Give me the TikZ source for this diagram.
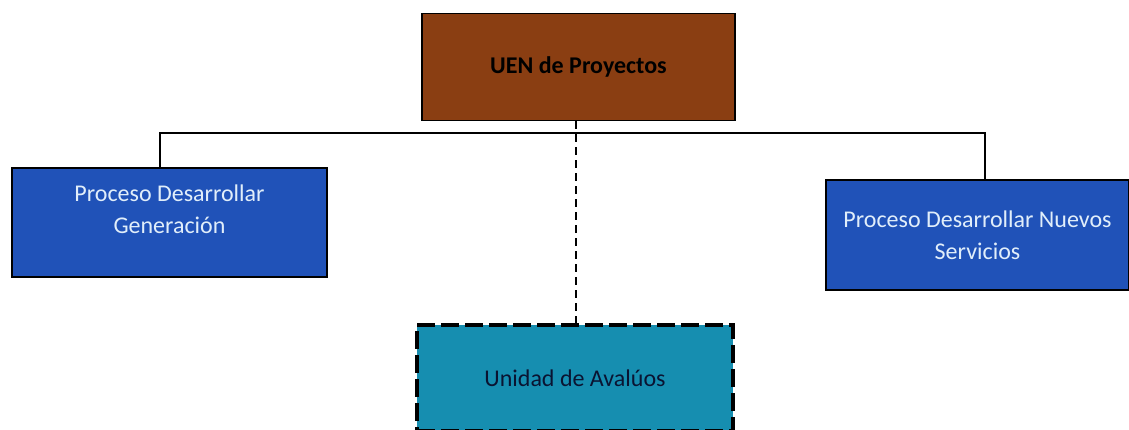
\documentclass[tikz,border=0pt]{standalone}
\usepackage{fontspec}
\setmainfont{Carlito}
\definecolor{brownfill}{RGB}{138,62,18}
\definecolor{bluefill}{RGB}{32,82,184}
\definecolor{tealfill}{RGB}{22,142,176}
\definecolor{lighttext}{RGB}{225,238,250}
\definecolor{darktext}{RGB}{10,20,50}
\tikzset{
  box/.style={draw=black, line width=1.8pt, inner sep=0pt, align=center,
    font=\fontsize{24}{32}\selectfont},
  bluebox/.style={box, fill=bluefill, text=lighttext},
  conn/.style={draw=black, line width=1.5pt},
}
\begin{document}
\begin{tikzpicture}[x=1pt,y=-1pt]
\useasboundingbox (0,0) rectangle (1129,429);
\node[box, fill=brownfill, text=black, minimum width=313pt, minimum height=107pt,
  font=\fontsize{24}{28}\selectfont\bfseries] (uen) at (578.5,67) {UEN de Proyectos};
\node[bluebox, minimum width=315pt, minimum height=109pt] (gen) at (169.5,222.5) {};
\node[text=lighttext, align=center, font=\fontsize{24}{32}\selectfont] (gentxt) at (169.5,209)
  {Proceso Desarrollar\\Generación};
\node[bluebox, minimum width=303pt, minimum height=110pt] (nue) at (977.5,235)
  {Proceso Desarrollar Nuevos\\Servicios};
\node[draw=black, line width=4pt, dash pattern=on 18pt off 6pt, fill=tealfill,
  text=darktext, minimum width=316pt, minimum height=106pt, inner sep=0pt,
  font=\fontsize{24}{28}\selectfont] (ava) at (575,378) {Unidad de Avalúos};
\coordinate (bus) at (0,133);
\draw[conn] (gen.north -| 160,0) |- (bus -| 985,0) -- (nue.north -| 985,0);
\draw[line width=2pt, dash pattern=on 8pt off 5pt] (uen.south -| 576,0) -- (ava.north -| 576,0);
\end{tikzpicture}
\end{document}
